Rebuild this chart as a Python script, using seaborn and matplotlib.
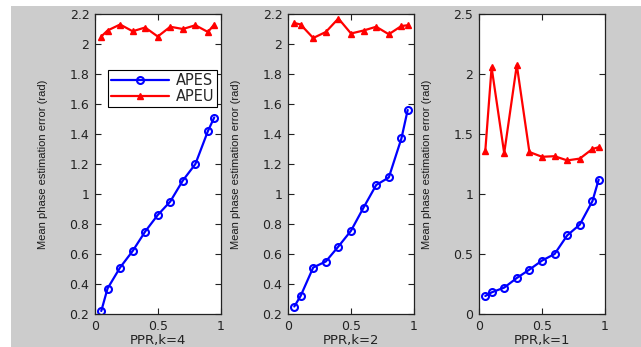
import numpy as np
import pandas as pd
import seaborn as sns
import matplotlib
matplotlib.use("Agg")
import matplotlib.pyplot as plt
from matplotlib.patches import Rectangle

ppr = [0.05, 0.1, 0.2, 0.3, 0.4, 0.5, 0.6, 0.7, 0.8, 0.9, 0.95]

apes_k4 = [0.22, 0.37, 0.51, 0.62, 0.75, 0.86, 0.95, 1.09, 1.20, 1.42, 1.51]
apeu_k4 = [2.05, 2.09, 2.13, 2.085, 2.11, 2.05, 2.115, 2.10, 2.125, 2.08, 2.13]

apes_k2 = [0.25, 0.32, 0.51, 0.55, 0.65, 0.755, 0.91, 1.06, 1.11, 1.37, 1.56]
apeu_k2 = [2.14, 2.13, 2.04, 2.08, 2.17, 2.07, 2.09, 2.115, 2.065, 2.12, 2.125]

apes_k1 = [0.15, 0.18, 0.22, 0.30, 0.37, 0.445, 0.50, 0.655, 0.745, 0.94, 1.12]
apeu_k1 = [1.36, 2.055, 1.34, 2.075, 1.35, 1.31, 1.315, 1.28, 1.295, 1.375, 1.39]

xlabels = ["PPR,k=4", "PPR,k=2", "PPR,k=1"]
ylabel = "Mean phase estimation error (rad)"
series_names = ["APES", "APEU"]

sns.set_style("ticks")
plt.rcParams['font.family'] = ['DejaVu Sans']
plt.rcParams['xtick.direction'] = 'in'
plt.rcParams['ytick.direction'] = 'in'

fig = plt.figure(figsize=(6.41, 3.47), dpi=100)
fig.patch.set_facecolor('white')
fig.patches.append(Rectangle((11/641, 0), 1 - 11/641, (347 - 6)/347,
                             transform=fig.transFigure, facecolor='#cccccc',
                             edgecolor='none', zorder=-10))

W, H = 641, 347
lefts = [95, 288, 479]
rights = [220.5, 414, 605]
top, bottom = 14, 314

data = [(apes_k4, apeu_k4), (apes_k2, apeu_k2), (apes_k1, apeu_k1)]
axes = []
for i in range(3):
    ax = fig.add_axes([lefts[i]/W, (H - bottom)/H, (rights[i]-lefts[i])/W, (bottom - top)/H])
    ax.set_facecolor('white')
    apes, apeu = data[i]
    df = pd.DataFrame({"x": ppr + ppr, "y": apes + apeu,
                       "s": [series_names[0]]*len(ppr) + [series_names[1]]*len(ppr)})
    sns.lineplot(data=df[df.s == "APES"], x="x", y="y", ax=ax, color='#0000ff',
                 lw=1.6, marker='o', markersize=5, markerfacecolor='none',
                 markeredgecolor='#0000ff', markeredgewidth=1.5, label="APES", legend=False)
    sns.lineplot(data=df[df.s == "APEU"], x="x", y="y", ax=ax, color='#ff0000',
                 lw=1.6, marker='^', markersize=5, markerfacecolor='#ff0000',
                 markeredgecolor='#ff0000', markeredgewidth=1.0, label="APEU", legend=False)
    ax.set_xlim(0, 1)
    ax.set_xticks([0, 0.5, 1])
    ax.set_xticklabels(["0", "0.5", "1"])
    if i < 2:
        ax.set_ylim(0.2, 2.2)
        yt = np.round(np.arange(0.2, 2.21, 0.2), 1)
    else:
        ax.set_ylim(0, 2.5)
        yt = np.round(np.arange(0, 2.51, 0.5), 1)
    ax.set_yticks(yt)
    ax.set_yticklabels([("%g" % v) for v in yt])
    ax.tick_params(axis='both', which='both', top=True, right=True, length=4,
                   width=0.8, labelsize=9, colors='#222222', pad=4)
    for sp in ax.spines.values():
        sp.set_visible(True)
        sp.set_color('#222222')
        sp.set_linewidth(0.9)
    ax.set_xlabel(xlabels[i], fontsize=9.5, color='#222222', labelpad=1)
    ax.set_ylabel(ylabel, fontsize=8, color='#1a1a1a', labelpad=2,
                  family=['Liberation Sans', 'DejaVu Sans'])
    ax.yaxis.set_label_coords(-(47)/(rights[i]-lefts[i]), 0.5)
    axes.append(ax)

leg = axes[0].legend(loc='upper left', bbox_to_anchor=(108/W, (H-70)/H),
                     bbox_transform=fig.transFigure, fontsize=10.5, frameon=True,
                     fancybox=False, edgecolor='black', framealpha=1,
                     borderpad=0.2, handlelength=4.0, handletextpad=0.45,
                     labelspacing=0.1, borderaxespad=0)
leg.get_frame().set_linewidth(0.8)

fig.savefig("out.png", dpi=100, facecolor=fig.get_facecolor())
